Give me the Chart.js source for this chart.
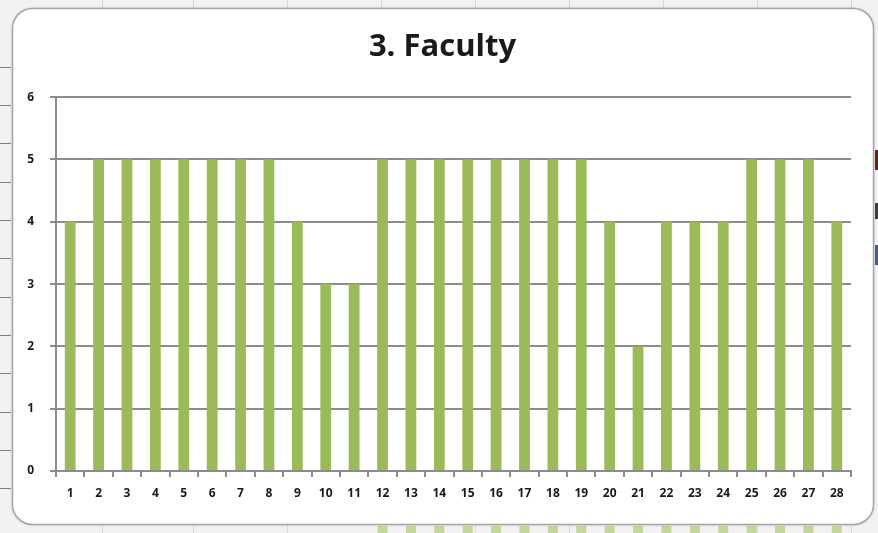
<!DOCTYPE html>
<html>
<head>
<meta charset="utf-8">
<script src="https://cdn.jsdelivr.net/npm/chart.js@4.4.1/dist/chart.umd.min.js"></script>
<style>
  html, body { margin: 0; padding: 0; background: #f0f0f0; }
  #wrap { width: 878px; height: 533px; position: relative; }
</style>
</head>
<body>
<div id="wrap"><canvas id="facultyChart" width="878" height="533"></canvas></div>
<script>
// chart data
const categories = ["1","2","3","4","5","6","7","8","9","10","11","12","13","14",
  "15","16","17","18","19","20","21","22","23","24","25","26","27","28"];
const facultyValues = [4,5,5,5,5,5,5,5,4,3,3,5,5,5,5,5,5,5,5,4,2,4,4,4,5,5,5,4];
const yTicks = [0,1,2,3,4,5,6];

// spreadsheet background + rounded chart card
const sheetBackground = {
  id: "sheetBackground",
  beforeDraw(chart) {
    const ctx = chart.ctx;
    ctx.save();
    ctx.fillStyle = "#f2f2f2";
    ctx.fillRect(0, 0, chart.width, chart.height);

    // faint cell lines
    ctx.strokeStyle = "#d9d9d9";
    ctx.lineWidth = 1;
    [102, 193, 287, 381, 475, 569, 663, 757, 851].forEach(x => {
      ctx.beginPath(); ctx.moveTo(x + 0.5, 0); ctx.lineTo(x + 0.5, chart.height); ctx.stroke();
    });
    ctx.strokeStyle = "#7f7f7f";
    [67, 105, 143, 182, 220, 258, 297, 335, 373, 412, 450, 488].forEach(y => {
      ctx.beginPath(); ctx.moveTo(0, y + 0.5); ctx.lineTo(11, y + 0.5); ctx.stroke();
    });

    // bars of the chart underneath, peeking out at the bottom
    const xs = chart.scales.x;
    ctx.fillStyle = "#c3d69b";
    for (let i = 11; i < categories.length; i++) {
      const cx = xs.getPixelForValue(i);
      ctx.fillRect(cx - 5, 526, 10, 7);
    }
    // legend marks on the right edge
    ctx.fillStyle = "#632523"; ctx.fillRect(875, 150, 3, 20);
    ctx.fillStyle = "#3f3f3f"; ctx.fillRect(875, 203, 3, 16);
    ctx.fillStyle = "#4f5b8f"; ctx.fillRect(875, 245, 3, 20);

    // card
    const x0 = 12.5, y0 = 8.5, x1 = 873.5, y1 = 524.5, r = 20;
    ctx.shadowColor = "rgba(0,0,0,0.25)";
    ctx.shadowBlur = 3;
    ctx.beginPath();
    ctx.roundRect(x0, y0, x1 - x0, y1 - y0, r);
    ctx.fillStyle = "#ffffff";
    ctx.fill();
    ctx.shadowColor = "transparent";
    ctx.strokeStyle = "#a6a6a6";
    ctx.lineWidth = 1.5;
    ctx.stroke();
    ctx.restore();
  }
};

const ctx = document.getElementById("facultyChart").getContext("2d");
new Chart(ctx, {
  type: "bar",
  data: {
    labels: categories,
    datasets: [{
      label: "Faculty",
      data: facultyValues,
      backgroundColor: "#9bbb59",
      borderWidth: 0,
      barPercentage: 0.38,
      categoryPercentage: 1
    }]
  },
  options: {
    responsive: false,
    animation: false,
    // left/right padding kept equal so the title centres on the card
    layout: { padding: { left: 12, right: 5, top: 8, bottom: 22 } },
    plugins: {
      legend: { display: false },
      tooltip: { enabled: false },
      title: {
        display: true,
        text: "3. Faculty",
        color: "#1a1a1a",
        font: { family: "'Open Sans', sans-serif", size: 31, weight: "bold" },
        padding: { top: 21, bottom: 31 }
      }
    },
    scales: {
      x: {
        afterFit: s => { s.height = 40; },
        border: { color: "#8c8c8c", width: 2 },
        grid: {
          offset: true,
          drawOnChartArea: false,
          drawTicks: true,
          tickLength: 6,
          color: "#8c8c8c",
          lineWidth: 2
        },
        ticks: {
          color: "#1a1a1a",
          padding: 9,
          maxRotation: 0,
          autoSkip: false,
          font: { family: "'Open Sans', sans-serif", size: 12, weight: "bold" }
        }
      },
      y: {
        min: 0,
        max: 6,
        afterFit: s => { s.width = 44; },
        afterBuildTicks: s => { s.ticks = yTicks.map(v => ({ value: v })); },
        border: { color: "#8c8c8c", width: 2 },
        grid: {
          color: "#8c8c8c",
          lineWidth: 2,
          tickLength: 6
        },
        ticks: {
          color: "#1a1a1a",
          padding: 16,
          font: { family: "'Open Sans', sans-serif", size: 12, weight: "bold" }
        }
      },
      // empty spacer on the right side of the plot
      yRight: {
        position: "right",
        min: 0,
        max: 6,
        afterFit: s => { s.width = 22; },
        grid: { display: false, drawTicks: false },
        border: { display: false },
        ticks: { display: false }
      }
    }
  },
  plugins: [sheetBackground]
});
</script>
</body>
</html>
